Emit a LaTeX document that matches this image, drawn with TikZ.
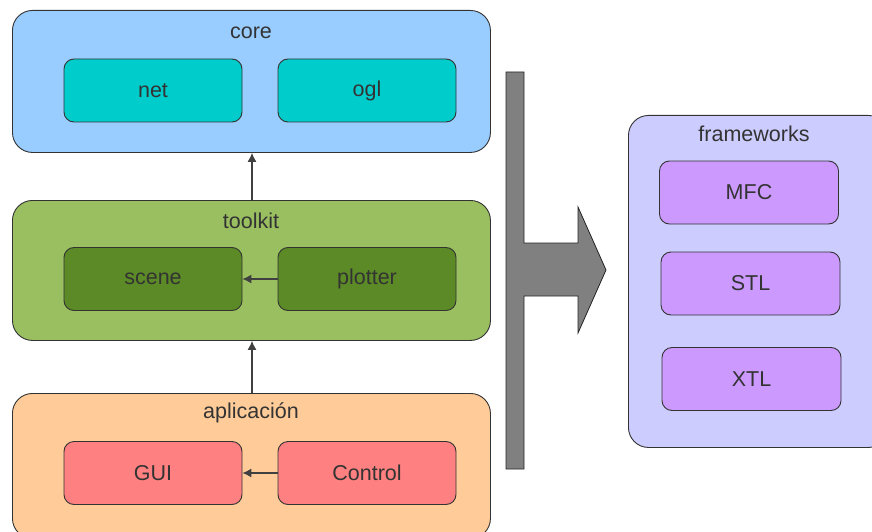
\documentclass[tikz,border=0pt]{standalone}
\usepackage{fontspec}
\setmainfont{Liberation Sans}
\usetikzlibrary{arrows.meta}

\definecolor{coreblue}{HTML}{99CCFF}
\definecolor{coreteal}{HTML}{00CCCC}
\definecolor{kitgreen}{HTML}{99BF60}
\definecolor{kitdark}{HTML}{5B8A26}
\definecolor{appeach}{HTML}{FFCC99}
\definecolor{appred}{HTML}{FF8080}
\definecolor{fwlilac}{HTML}{CCCCFF}
\definecolor{fwviolet}{HTML}{CC99FF}
\definecolor{labelgray}{HTML}{333333}

\begin{document}
\begin{tikzpicture}[x=1pt,y=-1pt,>={Latex[length=9pt,width=9pt]},
  thick,font=\fontsize{21.5}{24}\selectfont,text=labelgray,
  layer node/.style={rectangle,rounded corners=20pt,draw=black!80,line width=0.9pt,anchor=north west},
  sub node/.style={rectangle,rounded corners=10pt,draw=black!80,line width=0.9pt,
    minimum width=178pt,minimum height=63pt},
  link/.style={->,draw=black!75,line width=1.1pt}]

  \useasboundingbox (0,0) rectangle (872,532);

  % layers on the left
  \node[layer node,fill=coreblue,minimum width=478pt,minimum height=142pt] (core) at (12,10) {};
  \node[layer node,fill=kitgreen,minimum width=478pt,minimum height=140pt] (toolkit) at (12,200) {};
  \node[layer node,fill=appeach,minimum width=478pt,minimum height=145pt] (app) at (12,393) {};

  \node (corelbl) at (251,33) {core};
  \node (kitlbl) at (251,221) {toolkit};
  \node (applbl) at (251,413) {aplicación};

  \node[sub node,fill=coreteal] (net) at (153,90.5) {net};
  \node[sub node,fill=coreteal] (ogl) at (367,90.5) {ogl};
  \node[sub node,fill=kitdark] (scene) at (153,279) {scene};
  \node[sub node,fill=kitdark] (plotter) at (367,279) {plotter};
  \node[sub node,fill=appred] (gui) at (153,473) {GUI};
  \node[sub node,fill=appred] (control) at (367,473) {Control};

  \path[link] (toolkit.north -| 252,0) -- (core.south -| 252,0);
  \path[link] (app.north -| 252,0) -- (toolkit.south -| 252,0);
  \path[link] (plotter) -- (scene);
  \path[link] (control) -- (gui);

  % big arrow towards the frameworks
  \draw[fill=black!50,draw=black!85,line width=0.8pt]
    (506,72) -- (524,72) -- (524,243) -- (578,243) -- (578,207) -- (606,270)
    -- (578,333) -- (578,296) -- (524,296) -- (524,469) -- (506,469) -- cycle;

  % frameworks
  \node[layer node,fill=fwlilac,minimum width=260pt,minimum height=332pt] (fw) at (628,115) {};
  \node (fwlbl) at (754,134) {frameworks};
  \node[sub node,fill=fwviolet,minimum width=179pt] (mfc) at (749,192.5) {MFC};
  \node[sub node,fill=fwviolet,minimum width=179pt] (stl) at (750.5,283.5) {STL};
  \node[sub node,fill=fwviolet,minimum width=179pt] (xtl) at (751.5,379) {XTL};

\end{tikzpicture}
\end{document}
